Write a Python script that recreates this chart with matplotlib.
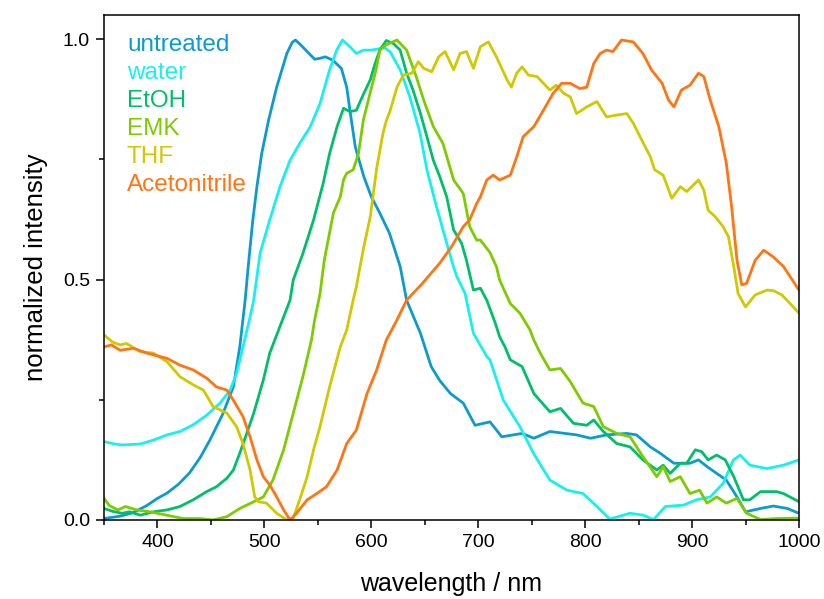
import matplotlib
matplotlib.use("Agg")
import matplotlib.pyplot as plt
from matplotlib.ticker import MultipleLocator

plt.rcParams["font.family"] = ["Liberation Sans", "DejaVu Sans"]

# Normalized emission spectra, wavelength in nm
untreated_wl = [350, 365, 377, 390, 400, 409, 420, 430, 440, 449, 461, 471, 477, 482, 485, 489,
                493, 497.5, 504, 511.5, 521, 526, 529, 533, 540, 547, 552, 557, 564, 572, 577,
                580, 585, 593, 600, 608, 617, 627, 633, 646, 656, 664, 674, 686, 697, 711, 722,
                741, 752, 767, 792, 805, 820, 839, 848, 861, 870, 883, 898, 906, 914, 923, 932,
                942, 950, 964, 976, 989, 1000]
untreated = [0.003, 0.008, 0.015, 0.03, 0.045, 0.056, 0.075, 0.098, 0.13, 0.166, 0.22, 0.277,
             0.36, 0.457, 0.53, 0.62, 0.693, 0.762, 0.832, 0.90, 0.97, 0.993, 0.998, 0.99,
             0.974, 0.958, 0.96, 0.963, 0.956, 0.939, 0.90, 0.852, 0.776, 0.714, 0.672, 0.638,
             0.596, 0.527, 0.457, 0.388, 0.319, 0.29, 0.263, 0.243, 0.197, 0.204, 0.173, 0.18,
             0.17, 0.184, 0.177, 0.17, 0.177, 0.18, 0.177, 0.152, 0.139, 0.118, 0.118, 0.125,
             0.111, 0.097, 0.083, 0.048, 0.017, 0.024, 0.029, 0.024, 0.014]

water_wl = [350, 360, 367, 384, 396, 409, 421, 433.5, 446, 458.5, 468, 474, 480, 486, 490, 496,
            505, 514.6, 524, 533, 543, 552, 561, 567.6, 573, 580, 586, 592.5, 600, 608, 611,
            617.5, 627, 636, 645.6, 652, 661, 670.6, 676.8, 680, 687.7, 695.5, 708, 711, 723.5,
            739, 751.6, 767, 783, 798, 811, 823, 842, 854.5, 864, 875, 892, 904, 917, 929,
            938.7, 945, 954, 970, 985.5, 1000]
water = [0.163, 0.158, 0.156, 0.158, 0.166, 0.177, 0.184, 0.198, 0.218, 0.243, 0.27, 0.305,
         0.36, 0.416, 0.457, 0.555, 0.624, 0.693, 0.748, 0.783, 0.818, 0.866, 0.936, 0.977,
         0.998, 0.984, 0.97, 0.977, 0.977, 0.98, 0.984, 0.974, 0.936, 0.88, 0.804, 0.728,
         0.651, 0.575, 0.527, 0.506, 0.471, 0.388, 0.34, 0.333, 0.249, 0.194, 0.139, 0.083,
         0.062, 0.055, 0.028, 0.002, 0.014, 0.01, 0.001, 0.028, 0.031, 0.042, 0.048, 0.076,
         0.125, 0.135, 0.114, 0.107, 0.114, 0.125]

etoh_wl = [350, 358, 367, 374, 384, 396, 409, 421, 433.5, 446, 455, 465, 471, 477, 483.5, 490,
           499, 505, 515, 524, 527, 536, 546, 555, 561, 568, 574, 580, 586, 593, 599, 603.5,
           608, 614, 621, 627, 633, 639, 646, 652, 658, 664, 670.5, 677, 684.5, 689, 695.5,
           702, 708, 716, 720, 725, 730, 741, 752, 767, 777, 789, 801.5, 808, 817, 829.5, 842,
           854, 867, 873, 879.5, 889, 895, 903, 909, 915, 923, 931, 939, 948, 954, 964, 979,
           985.5, 1000]
etoh = [0.024, 0.018, 0.014, 0.017, 0.01, 0.017, 0.021, 0.028, 0.042, 0.059, 0.069, 0.087,
        0.104, 0.139, 0.18, 0.222, 0.291, 0.347, 0.405, 0.457, 0.499, 0.554, 0.624, 0.70,
        0.762, 0.818, 0.856, 0.849, 0.852, 0.887, 0.915, 0.949, 0.977, 0.997, 0.99, 0.977,
        0.929, 0.894, 0.845, 0.797, 0.748, 0.714, 0.672, 0.603, 0.575, 0.54, 0.478, 0.482,
        0.457, 0.409, 0.381, 0.36, 0.333, 0.319, 0.263, 0.225, 0.232, 0.201, 0.197, 0.208,
        0.184, 0.159, 0.152, 0.125, 0.104, 0.114, 0.097, 0.118, 0.118, 0.146, 0.142, 0.125,
        0.135, 0.125, 0.09, 0.042, 0.042, 0.059, 0.059, 0.055, 0.038]

emk_wl = [350, 355, 363, 370, 380.5, 393, 408.6, 424, 440, 452, 465, 477, 490, 499, 508, 518,
          527, 536, 544, 547, 552, 556, 564.5, 571, 574, 577, 583, 586, 588, 592.6, 598.8, 602,
          605, 608, 614, 624, 633, 642, 649, 658, 667, 677, 686, 692, 698.5, 702, 711, 717, 720,
          730, 739, 748.5, 752, 758, 767, 777, 786, 798, 808, 817, 829.5, 842, 854, 867, 873,
          879.5, 889, 898, 907, 914, 923, 932, 942, 951, 964, 979, 1000]
emk = [0.045, 0.03, 0.021, 0.028, 0.021, 0.017, 0.01, 0.003, 0.003, 0.0, 0.007, 0.024, 0.038,
       0.048, 0.083, 0.146, 0.222, 0.298, 0.374, 0.416, 0.47, 0.54, 0.638, 0.672, 0.707, 0.721,
       0.728, 0.748, 0.762, 0.832, 0.887, 0.915, 0.942, 0.977, 0.988, 0.998, 0.977, 0.922,
       0.873, 0.818, 0.783, 0.707, 0.679, 0.61, 0.582, 0.582, 0.556, 0.527, 0.499, 0.45, 0.43,
       0.395, 0.374, 0.347, 0.312, 0.315, 0.288, 0.243, 0.236, 0.194, 0.18, 0.173, 0.132, 0.09,
       0.111, 0.08, 0.09, 0.055, 0.062, 0.035, 0.048, 0.035, 0.045, 0.014, 0.001, 0.003, 0.004]

thf_wl = [350, 358, 365, 371, 384, 396, 409, 421, 433.5, 443, 452, 465, 474, 480, 486.6, 491,
          494.5, 502, 511.5, 521, 527, 533, 540, 546, 552, 561, 571, 577, 583, 586, 589.5, 593,
          599, 605, 611, 614, 617.5, 624, 630, 638, 644, 649, 656.5, 663, 669, 677, 683, 689,
          695.5, 702, 709.5, 717, 727, 731, 736, 741, 747, 755, 761, 767, 773, 780, 786, 792,
          801.5, 811, 820, 829.5, 839, 845, 854.5, 861, 865, 873, 881, 889, 895, 906, 911, 915,
          921.5, 929, 934, 939, 943, 950, 959, 970, 976, 984, 993, 1000]
thf = [0.385, 0.37, 0.364, 0.367, 0.35, 0.347, 0.329, 0.298, 0.281, 0.27, 0.236, 0.222, 0.194,
       0.159, 0.104, 0.048, 0.038, 0.035, 0.014, 0.0, 0.004, 0.042, 0.09, 0.146, 0.194, 0.277,
       0.36, 0.395, 0.457, 0.485, 0.527, 0.568, 0.63, 0.731, 0.805, 0.83, 0.85, 0.90, 0.925,
       0.929, 0.953, 0.939, 0.932, 0.963, 0.974, 0.936, 0.97, 0.974, 0.939, 0.984, 0.994,
       0.963, 0.915, 0.90, 0.929, 0.942, 0.925, 0.922, 0.908, 0.894, 0.904, 0.887, 0.88, 0.845,
       0.859, 0.87, 0.838, 0.842, 0.845, 0.825, 0.783, 0.755, 0.728, 0.717, 0.669, 0.693,
       0.683, 0.707, 0.686, 0.644, 0.631, 0.61, 0.589, 0.527, 0.471, 0.443, 0.468, 0.478,
       0.477, 0.468, 0.447, 0.43]

acn_wl = [350, 357, 365, 377.5, 390, 409, 421, 433.5, 446, 455, 465, 471, 480, 486.6, 493, 499,
          505, 511.5, 518, 524, 530, 540, 549, 558, 568, 577, 586, 596, 605, 614, 624, 633, 647,
          664, 675, 686, 692, 698.5, 702, 708, 714, 720, 730, 736, 742, 752, 761, 770, 778, 786,
          795, 801.5, 808, 814, 820, 826, 834, 845, 854, 862, 872, 878, 883, 890, 898, 906, 911,
          917, 925, 932, 937, 942, 946.5, 951, 959, 967, 976, 985.5, 1000]
acn = [0.36, 0.364, 0.353, 0.357, 0.347, 0.336, 0.322, 0.312, 0.295, 0.277, 0.27, 0.249, 0.215,
       0.173, 0.125, 0.09, 0.073, 0.048, 0.021, 0.0, 0.014, 0.042, 0.055, 0.069, 0.104, 0.159,
       0.187, 0.263, 0.312, 0.374, 0.416, 0.457, 0.49, 0.534, 0.568, 0.61, 0.624, 0.658, 0.672,
       0.707, 0.717, 0.707, 0.717, 0.755, 0.797, 0.818, 0.852, 0.887, 0.908, 0.908, 0.897,
       0.90, 0.949, 0.97, 0.977, 0.974, 0.998, 0.994, 0.97, 0.936, 0.908, 0.873, 0.859, 0.894,
       0.904, 0.929, 0.922, 0.873, 0.818, 0.742, 0.651, 0.54, 0.489, 0.492, 0.54, 0.561, 0.547,
       0.527, 0.478]

labels = ["untreated", "water", "EtOH", "EMK", "THF", "Acetonitrile"]
colors = ["#0B9BD0", "#18F0F0", "#00BF6A", "#7CCC00", "#D2C800", "#FF7413"]
series = [(untreated_wl, untreated), (water_wl, water), (etoh_wl, etoh),
          (emk_wl, emk), (thf_wl, thf), (acn_wl, acn)]

fig = plt.figure(figsize=(8.24, 5.99), dpi=100)
ax = fig.add_axes([104 / 824, 79 / 599, 695 / 824, 505 / 599])

for (wl, val), col in zip(series, colors):
    ax.plot(wl, val, color=col, lw=2.0, solid_joinstyle="round", solid_capstyle="round")

ax.set_xlim(350, 1000)
ax.set_ylim(0, 1.05)
ax.xaxis.set_minor_locator(MultipleLocator(50))
ax.yaxis.set_minor_locator(MultipleLocator(0.25))
ax.set_yticks([0, 0.5, 1.0])
ax.set_yticklabels(["0.0", "0.5", "1.0"])
ax.set_xticks([400, 500, 600, 700, 800, 900, 1000])

ax.tick_params(which="major", direction="out", length=6, width=1.1, labelsize=14, pad=4)
ax.tick_params(which="minor", direction="out", length=3.5, width=1.1)
ax.tick_params(top=False, right=False, which="both")
for sp in ax.spines.values():
    sp.set_linewidth(1.1)

ax.set_xlabel("wavelength / nm", fontsize=18, labelpad=15)
ax.set_ylabel("normalized intensity", fontsize=18.5, labelpad=11)

for i, (lab, col) in enumerate(zip(labels, colors)):
    ax.text(0.033, 0.9406 - i * 0.0555, lab, color=col, fontsize=17.5,
            transform=ax.transAxes, ha="left", va="center")

fig.savefig("out.png", dpi=100)
